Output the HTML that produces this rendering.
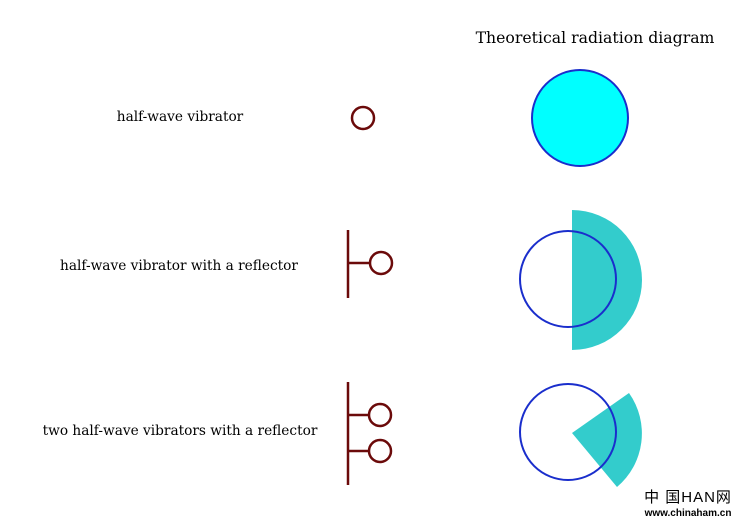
<!DOCTYPE html>
<html><head><style>
body{margin:0;background:#fff;}
svg{display:block;}
text{font-family:"DejaVu Serif",serif;fill:#000;}
</style></head><body>
<svg width="750" height="525" viewBox="0 0 750 525">
<text x="595" y="43" font-size="15.7" text-anchor="middle">Theoretical radiation diagram</text>
<text x="180" y="121" font-size="13.7" text-anchor="middle">half-wave vibrator</text>
<text x="179" y="270" font-size="13.7" text-anchor="middle">half-wave vibrator with a reflector</text>
<text x="180" y="435" font-size="13.7" text-anchor="middle">two half-wave vibrators with a reflector</text>
<g stroke="#6b0a0a" stroke-width="2.5" fill="none">
<circle cx="363" cy="118" r="11"/>
<line x1="348" y1="230" x2="348" y2="298"/>
<line x1="348" y1="263" x2="370" y2="263"/>
<circle cx="381" cy="263" r="11"/>
<line x1="348" y1="382" x2="348" y2="485"/>
<line x1="348" y1="415" x2="369" y2="415"/>
<line x1="348" y1="451" x2="369" y2="451"/>
<circle cx="380" cy="415" r="11"/>
<circle cx="380" cy="451" r="11"/>
</g>
<circle cx="580" cy="118" r="48" fill="#00ffff" stroke="#1a2ecc" stroke-width="2"/>
<path d="M572 210 A70 70 0 0 1 572 350 Z" fill="#33cccc"/>
<circle cx="568" cy="279" r="48" fill="none" stroke="#1a2ecc" stroke-width="2"/>
<path d="M572 433 L629 393 A70 70 0 0 1 617 487 Z" fill="#33cccc"/>
<circle cx="568" cy="432" r="48" fill="none" stroke="#1a2ecc" stroke-width="2"/>
<text x="688" y="502" font-size="15" text-anchor="middle" style="font-family:'Liberation Sans','Noto Sans CJK SC',sans-serif;letter-spacing:1px">中 国HAN网</text>
<text x="688" y="516" font-size="10" font-weight="bold" text-anchor="middle" style="font-family:'Liberation Sans',sans-serif">www.chinaham.cn</text>
</svg>
</body></html>
